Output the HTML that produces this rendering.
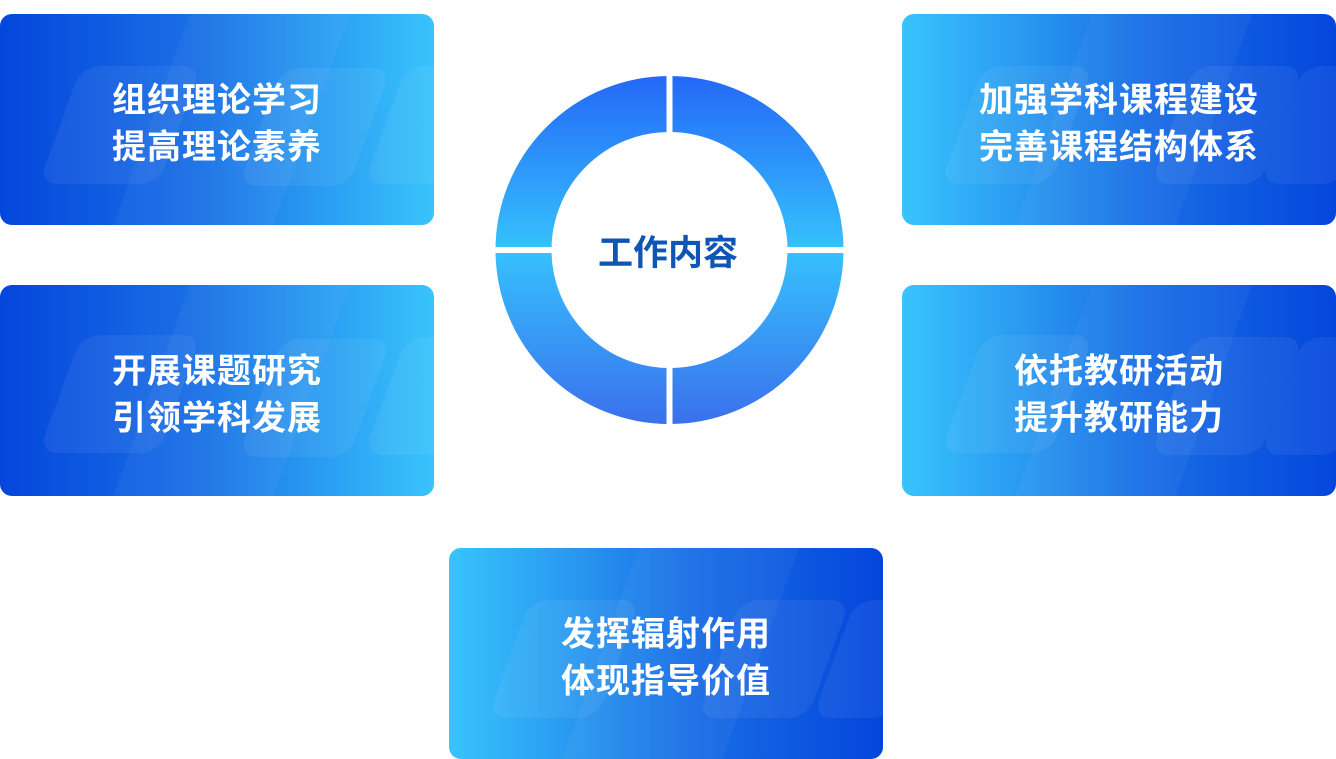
<!DOCTYPE html>
<html><head><meta charset="utf-8"><style>
body{margin:0;width:1336px;height:759px;background:#fff;position:relative;overflow:hidden;font-family:"Liberation Sans","Noto Sans CJK SC",sans-serif}
.card{position:absolute;width:434px;height:211px;border-radius:12px;overflow:hidden;color:#fff;font-weight:bold;font-size:34px;line-height:47px;letter-spacing:1px}
.l{background:linear-gradient(90deg,#0446dc 0%,#1a6fe6 45%,#38c4fc 100%)}
.r{background:linear-gradient(90deg,#38c4fc 0%,#1a6fe6 55%,#0446dc 100%)}
.s{position:absolute;background:rgba(255,255,255,0.06);border-radius:18px;transform:skewX(-20deg)}
.t{position:absolute;left:0;right:0;top:50%;transform:translateY(-45%);text-align:center}
</style></head><body>
<div class="card l" style="left:0;top:14px">
<div class="s" style="left:60px;top:52px;width:120px;height:118px"></div>
<div class="s" style="left:150px;top:-20px;width:160px;height:260px;background:rgba(255,255,255,0.04)"></div>
<div class="s" style="left:260px;top:54px;width:110px;height:118px"></div>
<div class="s" style="left:385px;top:52px;width:80px;height:118px"></div>
<div class="t">组织理论学习<br>提高理论素养</div></div>
<div class="card l" style="left:0;top:285px">
<div class="s" style="left:60px;top:50px;width:120px;height:118px"></div>
<div class="s" style="left:150px;top:-20px;width:160px;height:260px;background:rgba(255,255,255,0.04)"></div>
<div class="s" style="left:260px;top:54px;width:110px;height:118px"></div>
<div class="s" style="left:385px;top:52px;width:80px;height:118px"></div>
<div class="t">开展课题研究<br>引领学科发展</div></div>
<div class="card r" style="left:902px;top:14px">
<div class="s" style="left:60px;top:52px;width:110px;height:118px"></div>
<div class="s" style="left:150px;top:-20px;width:160px;height:260px;background:rgba(255,255,255,0.04)"></div>
<div class="s" style="left:270px;top:52px;width:110px;height:118px"></div>
<div class="s" style="left:380px;top:52px;width:80px;height:118px"></div>
<div class="t">加强学科课程建设<br>完善课程结构体系</div></div>
<div class="card r" style="left:902px;top:285px">
<div class="s" style="left:60px;top:50px;width:110px;height:118px"></div>
<div class="s" style="left:150px;top:-20px;width:160px;height:260px;background:rgba(255,255,255,0.04)"></div>
<div class="s" style="left:270px;top:52px;width:110px;height:118px"></div>
<div class="s" style="left:380px;top:52px;width:80px;height:118px"></div>
<div class="t">依托教研活动<br>提升教研能力</div></div>
<div class="card r" style="left:449px;top:548px">
<div class="s" style="left:60px;top:52px;width:110px;height:118px"></div>
<div class="s" style="left:150px;top:-20px;width:160px;height:260px;background:rgba(255,255,255,0.04)"></div>
<div class="s" style="left:270px;top:52px;width:110px;height:118px"></div>
<div class="s" style="left:385px;top:52px;width:80px;height:118px"></div>
<div class="t">发挥辐射作用<br>体现指导价值</div></div>
<svg style="position:absolute;left:0;top:0" width="1336" height="759">
<defs><linearGradient id="g" x1="0" y1="76" x2="0" y2="424" gradientUnits="userSpaceOnUse">
<stop offset="0" stop-color="#2468f8"/><stop offset="0.5" stop-color="#36c2fd"/><stop offset="1" stop-color="#3a70ec"/></linearGradient></defs>
<circle cx="669.5" cy="250" r="146" fill="none" stroke="url(#g)" stroke-width="56"/>
<rect x="666.5" y="70" width="6" height="360" fill="#fff"/>
<rect x="490" y="247" width="360" height="6" fill="#fff"/>
<text x="668" y="265" text-anchor="middle" font-family="Liberation Sans,Noto Sans CJK SC,sans-serif" font-weight="bold" font-size="35" fill="#0f55b4">工作内容</text>
</svg>
</body></html>
